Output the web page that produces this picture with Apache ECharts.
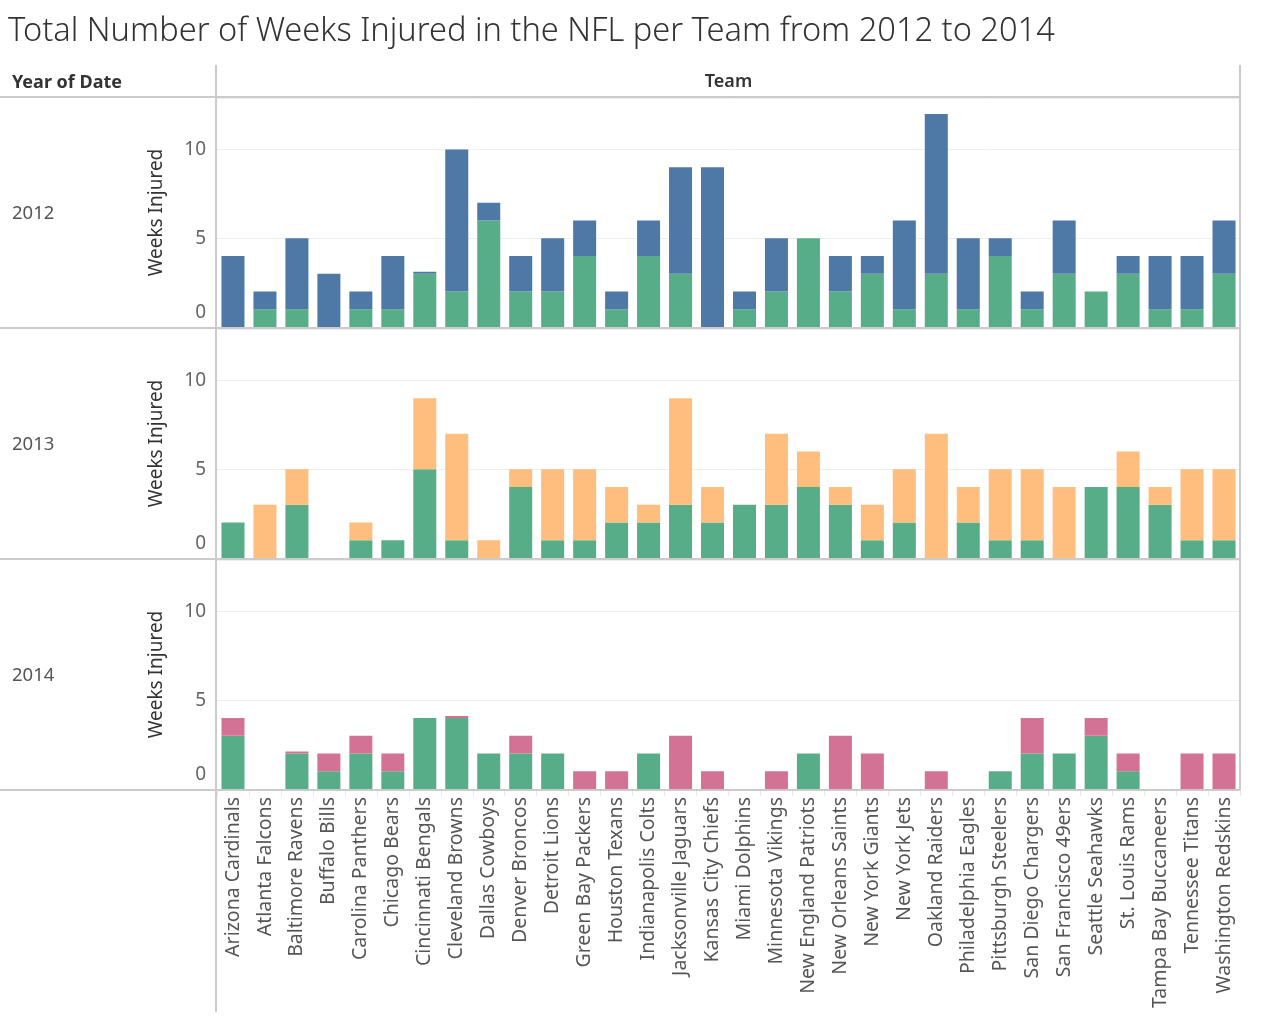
<!DOCTYPE html>
<html>
<head>
<meta charset="utf-8">
<title>Total Number of Weeks Injured in the NFL per Team from 2012 to 2014</title>
<script src="https://cdn.jsdelivr.net/npm/echarts@6/dist/echarts.min.js"></script>
<style>
  html, body { margin: 0; padding: 0; background: #fff; }
  #chart { width: 1262px; height: 1016px; }
</style>
</head>
<body>
<div id="chart"></div>
<script>
// 球队（横轴类目）
const teams = [
  'Arizona Cardinals', 'Atlanta Falcons', 'Baltimore Ravens', 'Buffalo Bills',
  'Carolina Panthers', 'Chicago Bears', 'Cincinnati Bengals', 'Cleveland Browns',
  'Dallas Cowboys', 'Denver Broncos', 'Detroit Lions', 'Green Bay Packers',
  'Houston Texans', 'Indianapolis Colts', 'Jacksonville Jaguars', 'Kansas City Chiefs',
  'Miami Dolphins', 'Minnesota Vikings', 'New England Patriots', 'New Orleans Saints',
  'New York Giants', 'New York Jets', 'Oakland Raiders', 'Philadelphia Eagles',
  'Pittsburgh Steelers', 'San Diego Chargers', 'San Francisco 49ers', 'Seattle Seahawks',
  'St. Louis Rams', 'Tampa Bay Buccaneers', 'Tennessee Titans', 'Washington Redskins'
]

const years = ['2012', '2013', '2014']

// 每年两段堆叠：底部绿色段 + 当年颜色段（null = 无记录，0 = 零值记录）
const greenWeeks2012 = [0, 1, 1, 0, 1, 1, 3, 2, 6, 2, 2, 4, 1, 4, 3, 0, 1, 2, 5, 2, 3, 1, 3, 1, 4, 1, 3, 2, 3, 1, 1, 3]
const yearWeeks2012 = [4, 1, 4, 3, 1, 3, 0, 8, 1, 2, 3, 2, 1, 2, 6, 9, 1, 3, null, 2, 1, 5, 9, 4, 1, 1, 3, null, 1, 3, 3, 3]

const greenWeeks2013 = [2, null, 3, null, 1, 1, 5, 1, null, 4, 1, 1, 2, 2, 3, 2, 3, 3, 4, 3, 1, 2, null, 2, 1, 1, null, 4, 4, 3, 1, 1]
const yearWeeks2013 = [null, 3, 2, null, 1, null, 4, 6, 1, 1, 4, 4, 2, 1, 6, 2, null, 4, 2, 1, 2, 3, 7, 2, 4, 4, 4, null, 2, 1, 4, 4]

const greenWeeks2014 = [3, null, 2, 1, 2, 1, 4, 4, 2, 2, 2, null, null, 2, null, null, null, null, 2, null, null, null, null, null, 1, 2, 2, 3, 1, null, null, null]
const yearWeeks2014 = [1, null, 0, 1, 1, 1, null, 0, null, 1, null, 1, 1, null, 3, 1, null, 1, null, 3, 2, null, 1, null, null, 2, null, 1, 1, null, 2, 2]

const yTickStep = 5
const yMax = 12.9

const greenColor = '#57ad88'
const yearColors = ['#4e79a7', '#ffbe7d', '#d37295']
const greenSeries = [greenWeeks2012, greenWeeks2013, greenWeeks2014]
const yearSeries = [yearWeeks2012, yearWeeks2013, yearWeeks2014]

const FONT = '"Noto Sans", "Open Sans", sans-serif'
const LINE = '#cbcbcb'

// 三个分面的位置
const paneLeft = 217
const paneRight = 1240
const paneTops = [98, 329, 560]
const paneHeight = 229

const chart = echarts.init(document.getElementById('chart'))

const grids = paneTops.map(top => ({
  left: paneLeft,
  width: paneRight - paneLeft,
  top: top,
  height: paneHeight
}))

const xAxes = years.map((y, i) => ({
  type: 'category',
  gridIndex: i,
  data: teams,
  axisLine: { show: false },
  axisTick: i === 2
    ? { show: true, length: 7, lineStyle: { color: '#e8e8e8' } }
    : { show: false },
  axisLabel: i === 2
    ? {
        show: true,
        interval: 0,
        rotate: 90,
        margin: 8,
        fontSize: 19.5,
        color: '#555',
        fontFamily: FONT
      }
    : { show: false }
}))

const yAxes = years.map((y, i) => ({
  type: 'value',
  gridIndex: i,
  min: 0,
  max: yMax,
  interval: yTickStep,
  name: 'Weeks Injured',
  nameLocation: 'middle',
  nameGap: 51,
  nameTextStyle: { fontSize: 19, color: '#333', fontFamily: FONT },
  axisLine: { show: false },
  axisTick: { show: false },
  splitLine: { lineStyle: { color: '#efefef', width: 1 } },
  axisLabel: {
    fontSize: 19,
    color: '#666',
    margin: 11,
    fontFamily: FONT,
    formatter: v => {
      if (v === 0) return '{z|0}'
      return v % yTickStep === 0 ? String(v) : ''
    },
    rich: {
      z: { fontSize: 19, color: '#666', fontFamily: FONT, padding: [0, 0, 28, 0] }
    }
  }
}))

const series = []
years.forEach((y, i) => {
  series.push({
    name: 'green ' + y,
    type: 'bar',
    xAxisIndex: i,
    yAxisIndex: i,
    stack: 'weeks' + y,
    barCategoryGap: '28%',
    itemStyle: { color: greenColor },
    data: greenSeries[i]
  })
  series.push({
    name: 'weeks ' + y,
    type: 'bar',
    xAxisIndex: i,
    yAxisIndex: i,
    stack: 'weeks' + y,
    barCategoryGap: '28%',
    barMinHeight: 2,
    itemStyle: { color: yearColors[i] },
    data: yearSeries[i]
  })
})

// 表头、年份标签与分隔线
const graphics = [
  {
    type: 'text', left: 8, top: 15,
    style: {
      text: 'Total Number of Weeks Injured in the NFL per Team from 2012 to 2014',
      font: '300 32.6px ' + FONT, fill: '#333'
    }
  },
  {
    type: 'text', x: 12, y: 83,
    style: { text: 'Year of Date', font: 'bold 18px ' + FONT, fill: '#333', verticalAlign: 'middle' }
  },
  {
    type: 'text', x: (paneLeft + paneRight) / 2, y: 82,
    style: { text: 'Team', font: '600 18px ' + FONT, fill: '#333', align: 'center', verticalAlign: 'middle' }
  }
]

years.forEach((y, i) => {
  graphics.push({
    type: 'text', x: 12, y: paneTops[i] + paneHeight / 2 + 1,
    style: { text: y, font: '18.5px ' + FONT, fill: '#555', verticalAlign: 'middle' }
  })
})

const hLines = [97, 328, 559, 790]
hLines.forEach(yy => {
  graphics.push({
    type: 'line', z: 10,
    shape: { x1: 0, y1: yy, x2: paneRight, y2: yy },
    style: { stroke: LINE, lineWidth: 2 }
  })
})
graphics.push({
  type: 'line', z: 10,
  shape: { x1: 216, y1: 65, x2: 216, y2: 1012 },
  style: { stroke: LINE, lineWidth: 2 }
})
graphics.push({
  type: 'line', z: 10,
  shape: { x1: paneRight, y1: 65, x2: paneRight, y2: 790 },
  style: { stroke: LINE, lineWidth: 2 }
})

chart.setOption({
  backgroundColor: '#fff',
  animation: false,
  textStyle: { fontFamily: FONT },
  grid: grids,
  xAxis: xAxes,
  yAxis: yAxes,
  series: series,
  graphic: graphics
})

window.addEventListener('resize', () => chart.resize())
</script>
</body>
</html>
